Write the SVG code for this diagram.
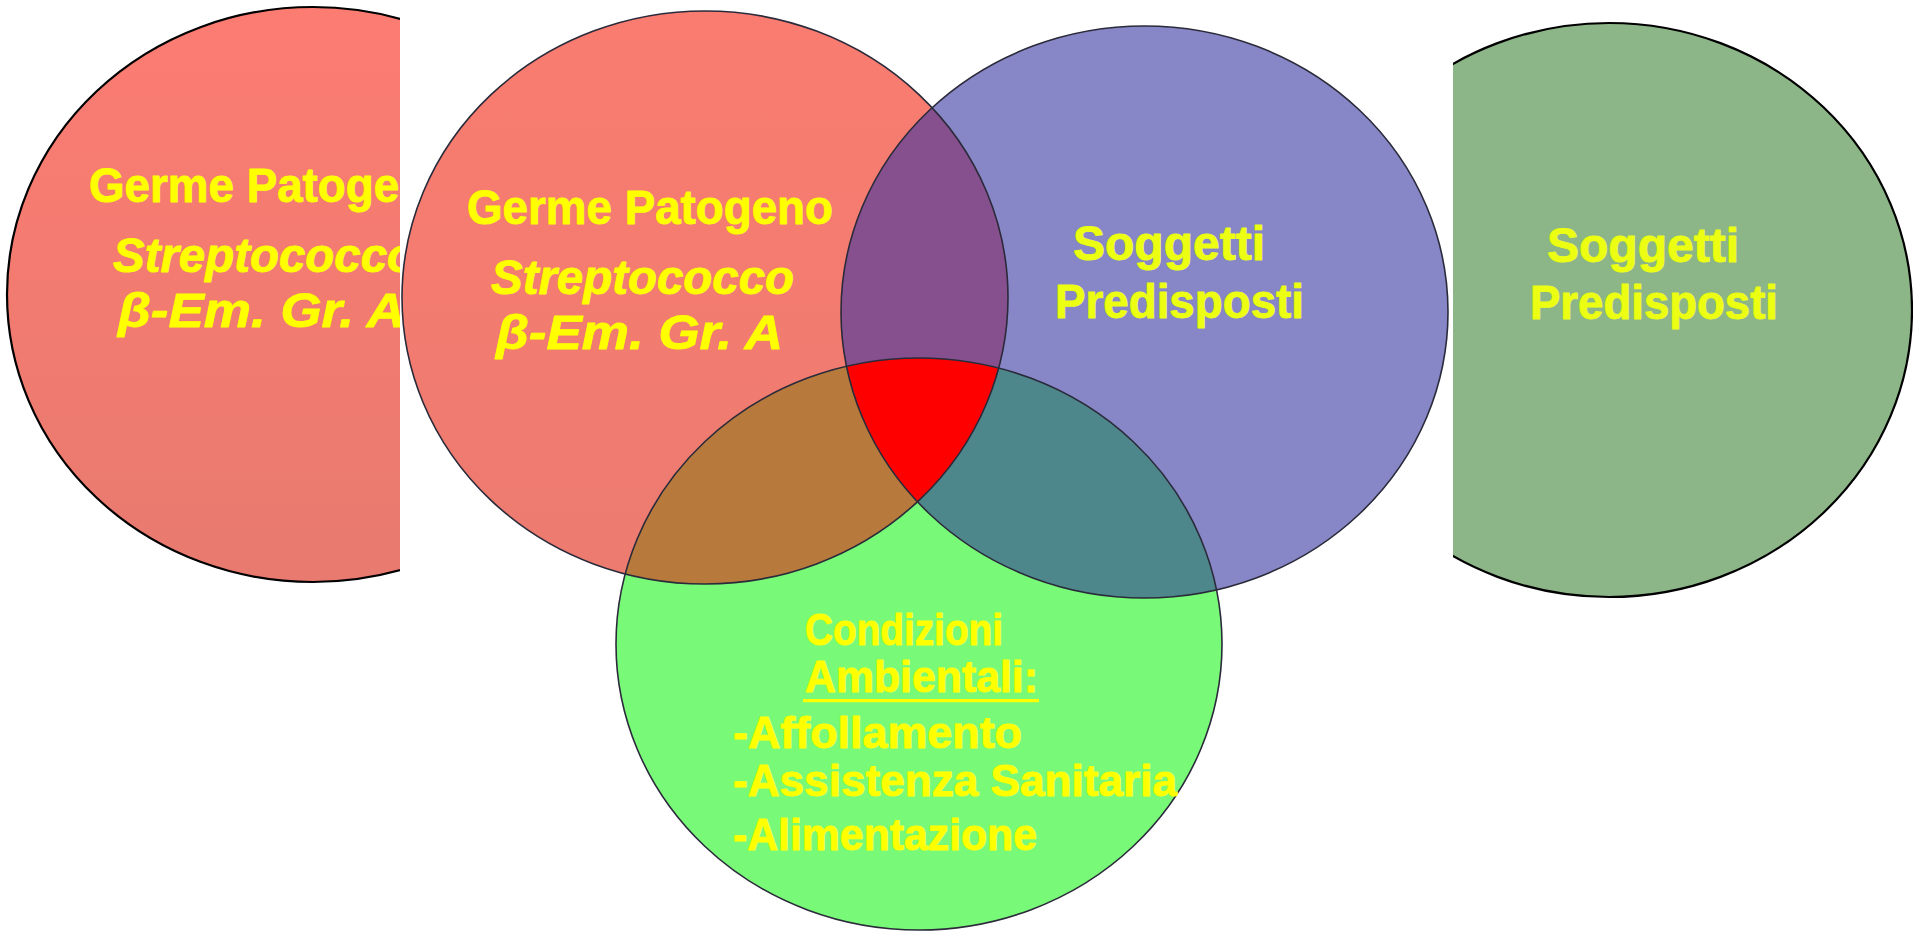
<svg xmlns="http://www.w3.org/2000/svg" width="1913" height="932" viewBox="0 0 1913 932">
<defs>
<style>
.t{font-family:"Liberation Sans",Arial,sans-serif;font-weight:bold;font-size:48px;fill:#FFFF00;stroke:#FFFF00;stroke-width:0.9;stroke-linejoin:round}
.it{font-style:italic}
.s{fill:#ECFF12;stroke:#ECFF12}
.g{font-size:44px}
.ol{fill:none;stroke:#2a2a3a;stroke-width:1.6}
.blk{stroke:#000;stroke-width:2.2}
</style>
<linearGradient id="pinkL" x1="0" y1="0" x2="0" y2="1">
<stop offset="0" stop-color="#FC7C72"/>
<stop offset="1" stop-color="#E87A6F"/>
</linearGradient>
<linearGradient id="pinkR" x1="0" y1="0" x2="0" y2="1">
<stop offset="0" stop-color="#FA7C70"/>
<stop offset="1" stop-color="#EC7B70"/>
</linearGradient>
<clipPath id="clipL"><rect x="0" y="0" width="400" height="932"/></clipPath>
<clipPath id="clipRG"><rect x="1453" y="0" width="460" height="932"/></clipPath>
<clipPath id="cR"><ellipse cx="705" cy="297.5" rx="303" ry="286.5"/></clipPath>
<clipPath id="cB"><ellipse cx="1144.5" cy="312" rx="303.5" ry="286"/></clipPath>
<clipPath id="cG"><ellipse cx="919" cy="644" rx="303" ry="286"/></clipPath>
</defs>
<rect width="1913" height="932" fill="#FFFFFF"/>

<g id="left-germe" clip-path="url(#clipL)">
<ellipse cx="313" cy="294.5" rx="306" ry="287.5" fill="url(#pinkL)" class="blk"/>
<text class="t" x="89" y="202" textLength="366" lengthAdjust="spacingAndGlyphs">Germe Patogeno</text>
<text class="t it" x="113" y="272" textLength="303" lengthAdjust="spacingAndGlyphs">Streptococco</text>
<text class="t it" x="118" y="327" textLength="287" lengthAdjust="spacingAndGlyphs">β-Em. Gr. A</text>
</g>

<g id="right-soggetti" clip-path="url(#clipRG)">
<ellipse cx="1609" cy="310" rx="303" ry="287" fill="#8DB688" class="blk"/>
<text class="t s" x="1547" y="262" textLength="192" lengthAdjust="spacingAndGlyphs">Soggetti</text>
<text class="t s" x="1530" y="319" textLength="248" lengthAdjust="spacingAndGlyphs">Predisposti</text>
</g>

<g id="venn-fills">
<ellipse cx="705" cy="297.5" rx="303" ry="286.5" fill="url(#pinkR)"/>
<ellipse cx="1144.5" cy="312" rx="303.5" ry="286" fill="#8786C6"/>
<ellipse cx="919" cy="644" rx="303" ry="286" fill="#78FA78"/>
<g clip-path="url(#cR)"><ellipse cx="1144.5" cy="312" rx="303.5" ry="286" fill="#86508E"/></g>
<g clip-path="url(#cR)"><ellipse cx="919" cy="644" rx="303" ry="286" fill="#B77A3C"/></g>
<g clip-path="url(#cB)"><ellipse cx="919" cy="644" rx="303" ry="286" fill="#4E878B"/></g>
<g clip-path="url(#cR)"><g clip-path="url(#cB)"><ellipse cx="919" cy="644" rx="303" ry="286" fill="#FF0000"/></g></g>
</g>

<g id="germe-patogeno">
<ellipse class="ol" cx="705" cy="297.5" rx="303" ry="286.5"/>
<text class="t" x="467" y="224" textLength="366" lengthAdjust="spacingAndGlyphs">Germe Patogeno</text>
<text class="t it" x="491" y="294" textLength="303" lengthAdjust="spacingAndGlyphs">Streptococco</text>
<text class="t it" x="496" y="349" textLength="287" lengthAdjust="spacingAndGlyphs">β-Em. Gr. A</text>
</g>

<g id="soggetti-predisposti">
<ellipse class="ol" cx="1144.5" cy="312" rx="303.5" ry="286"/>
<text class="t s" x="1073" y="260" textLength="192" lengthAdjust="spacingAndGlyphs">Soggetti</text>
<text class="t s" x="1055" y="318" textLength="249" lengthAdjust="spacingAndGlyphs">Predisposti</text>
</g>

<g id="condizioni-ambientali">
<ellipse class="ol" cx="919" cy="644" rx="303" ry="286"/>
<text class="t g" x="805" y="645" textLength="198" lengthAdjust="spacingAndGlyphs">Condizioni</text>
<text class="t g" x="805" y="692" textLength="233" lengthAdjust="spacingAndGlyphs">Ambientali:</text>
<rect x="803" y="699" width="236" height="3.2" fill="#FFFF00"/>
<text class="t g" x="733" y="748" textLength="289" lengthAdjust="spacingAndGlyphs">-Affollamento</text>
<text class="t g" x="733" y="796" textLength="444" lengthAdjust="spacingAndGlyphs">-Assistenza Sanitaria</text>
<text class="t g" x="733" y="850" textLength="304" lengthAdjust="spacingAndGlyphs">-Alimentazione</text>
</g>

<g id="connectors"/>
</svg>
